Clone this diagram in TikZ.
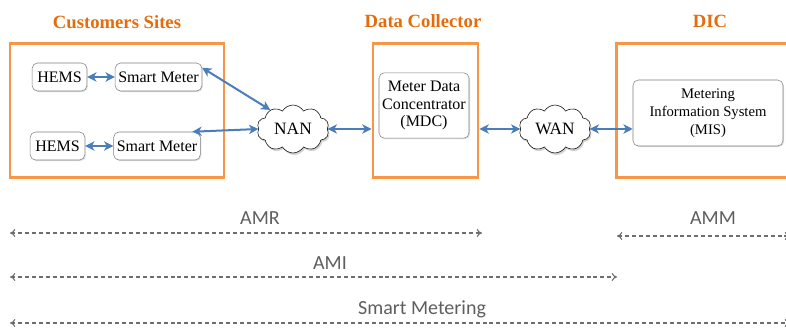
\documentclass[tikz,border=0pt]{standalone}
\usepackage{fontspec}
\setmainfont{Liberation Serif}
\newfontfamily\labelfont{Carlito}
\usetikzlibrary{shapes.symbols,shadows,arrows.meta}

\definecolor{boxorange}{RGB}{247,150,70}
\definecolor{titleorange}{RGB}{228,108,10}
\definecolor{linkblue}{RGB}{74,126,187}
\definecolor{scopegray}{RGB}{110,110,110}

\tikzset{
  zone/.style={draw=boxorange, line width=2.2pt, minimum width=#1, minimum height=101pt, inner sep=0pt},
  zonetitle/.style={text=titleorange, font=\fontsize{14}{16}\selectfont\bfseries},
  device/.style={draw=gray, rounded corners=4pt, fill=white, font=\fontsize{12}{13}\selectfont,
    drop shadow={shadow xshift=0.8pt, shadow yshift=-0.8pt, fill=gray!50}, inner sep=1pt, align=center},
  net/.style={cloud, cloud puffs=10, cloud puff arc=120, aspect=1.6, draw, fill=white,
    minimum width=54pt, minimum height=36pt, inner sep=0pt, font=\fontsize{13}{14}\selectfont,
    drop shadow={shadow xshift=1pt, shadow yshift=-1.5pt, fill=gray!70}},
  link/.style={{Stealth[length=7pt,width=7pt,inset=2pt]}-{Stealth[length=7pt,width=7pt,inset=2pt]}, draw=linkblue, line width=1.5pt},
  scope/.style={{To[length=4pt,width=6pt]}-{To[length=4pt,width=6pt]}, draw=scopegray, dash pattern=on 3pt off 2.2pt, line width=0.8pt},
  scopelabel/.style={text=scopegray!85!black, font=\labelfont\fontsize{15}{16}\selectfont}
}

\begin{document}
\begin{tikzpicture}[x=0.75pt,y=-0.75pt]
  \useasboundingbox (0,0) rectangle (786,328);

  % zones
  \node[zone=160.5pt] (cs) at (117,110.5) {};
  \node[zone=78.75pt] (dc) at (425.5,110.5) {};
  \node[zone=130pt] (dic) at (703.5,110.5) {};
  \node[zonetitle] (csT) at (117,22) {Customers Sites};
  \node[zonetitle] (dcT) at (423,21) {Data Collector};
  \node[zonetitle] (dicT) at (710,21) {DIC};

  % devices
  \node[device, minimum width=41pt, minimum height=21pt] (hems1) at (59.5,77) {HEMS};
  \node[device, minimum width=65pt, minimum height=21pt] (sm1) at (158.5,77) {Smart Meter};
  \node[device, minimum width=41pt, minimum height=21pt] (hems2) at (57.5,146) {HEMS};
  \node[device, minimum width=65pt, minimum height=21pt] (sm2) at (157,146) {Smart Meter};
  \node[device, minimum width=67.5pt, minimum height=49pt] (mdc) at (424,105.5) {Meter Data\\Concentrator\\(MDC)};
  \node[device, minimum width=112.5pt, minimum height=49.5pt, font=\fontsize{11}{13.5}\selectfont] (mis) at (708,113) {Metering\\Information System\\(MIS)};

  % networks
  \node[net] (nan) at (293,129) {NAN};
  \node[net] (wan) at (555,129) {WAN};

  % links
  \draw[link] (hems1) -- (sm1);
  \draw[link] (hems2) -- (sm2);
  \draw[link] (sm1.12) -- (nan.140);
  \draw[link] (sm2.22) -- (nan.west);
  \draw[link] (nan.east) -- (nan.east -| dc.west);
  \draw[link] (dc.east |- wan.west) -- (wan.west);
  \draw[link] (wan.east) -- (wan.east -| mis.west);

  % scopes
  \coordinate (amrA) at (10,233);
  \coordinate (amrB) at (482,233);
  \coordinate (ammA) at (617,236);
  \coordinate (ammB) at (790,236);
  \coordinate (amiA) at (10,277);
  \coordinate (amiB) at (617,277);
  \coordinate (smA) at (10,323);
  \coordinate (smB) at (790,323);
  \draw[scope] (amrA) -- (amrB);
  \draw[scope] (ammA) -- (ammB);
  \draw[scope] (amiA) -- (amiB);
  \draw[scope] (smA) -- (smB);
  \node[scopelabel] (amr) at (260,218) {AMR};
  \node[scopelabel] (amm) at (713,218) {AMM};
  \node[scopelabel] (ami) at (330,263) {AMI};
  \node[scopelabel] (smet) at (422,309) {Smart Metering};
\end{tikzpicture}
\end{document}
